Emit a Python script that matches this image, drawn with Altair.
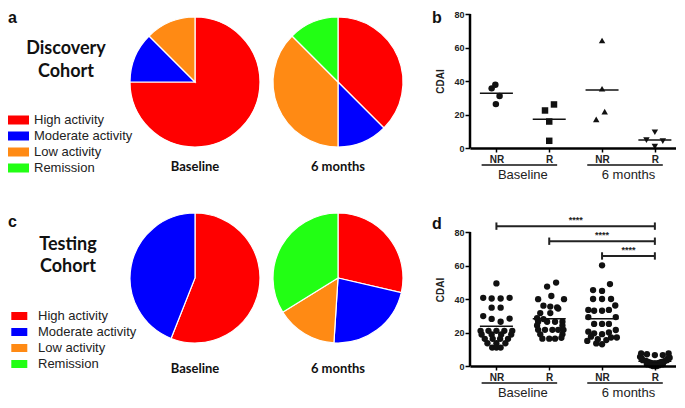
import altair as alt
import pandas as pd

# ---------------- data ----------------
CATS = ["High activity", "Moderate activity", "Low activity", "Remission"]
COLORS = ["#FF0000", "#0000FF", "#FF8A14", "#22FF14"]

disc_baseline = [75.0, 12.5, 12.5, 0.0]
disc_6months = [37.5, 12.5, 37.5, 12.5]
test_baseline = [56.0, 44.0, 0.0, 0.0]
test_6months = [28.6, 22.4, 15.2, 33.8]

GROUP_LABELS = ["Baseline", "6 months"]
TICK_LABELS = ["NR", "R", "NR", "R"]

b_nr_base = [35.6, 37.7, 31.1, 26.2]
b_nr_base_j = [-0.09, -0.02, 0.06, -0.01]
b_r_base = [22.4, 26.0, 15.8, 4.3]
b_r_base_j = [-0.08, 0.09, 0.0, 0.0]
b_nr_6m = [64.2, 35.4, 21.7, 17.1]
b_nr_6m_j = [0.0, 0.0, 0.05, -0.11]
b_r_6m = [9.4, 4.7, 4.1, 0.8]
b_r_6m_j = [0.0, -0.16, 0.15, 0.0]

d_nr_base = [49.3, 40.7, 40.3, 40.3, 40.7, 34.8, 34.8, 29.8, 28.1, 26.4, 28.3,
             21.0, 21.0, 21.0, 21.0, 21.0, 18.8, 18.8, 18.8, 18.8,
             16.2, 16.2, 16.2, 16.2, 13.6, 13.6, 13.6, 11.0, 11.0, 11.0]
d_nr_base_j = [0.0, -0.25, -0.09, 0.08, 0.25, -0.09, 0.08, -0.25, -0.09, 0.08, 0.25,
               -0.3, -0.15, 0.0, 0.15, 0.3, -0.28, -0.09, 0.09, 0.28,
               -0.22, -0.07, 0.07, 0.22, -0.17, 0.0, 0.17, -0.08, 0.0, 0.08]
d_r_base = [49.8, 47.4, 41.8, 39.9, 39.9, 36.0, 35.5, 35.0, 34.3, 31.6, 31.6, 28.5, 28.0,
            26.4, 26.4, 26.4, 26.4, 24.2, 24.2, 21.6, 21.6, 21.6, 21.6, 21.6,
            18.9, 18.9, 16.3, 16.3, 16.3, 16.8]
d_r_base_j = [0.13, -0.04, 0.04, -0.21, 0.28, -0.11, 0.02, 0.15, 0.17, -0.17, 0.02, -0.23, -0.11,
              -0.21, -0.04, 0.11, 0.25, -0.23, 0.25, -0.21, -0.08, 0.06, 0.17, 0.27,
              -0.17, 0.25, -0.13, 0.0, 0.11, 0.23]
d_nr_6m = [60.1, 48.9, 45.3, 44.8, 40.0, 40.0, 40.0, 36.1, 33.5, 33.0, 33.0, 33.5,
           29.2, 29.2, 25.1, 25.1, 25.1, 20.5, 19.5, 19.0, 20.0, 21.5,
           17.5, 16.0, 15.5, 17.0, 13.5, 13.0, 17.0, 15.0]
d_nr_6m_j = [0.0, 0.15, -0.17, 0.0, -0.17, 0.0, 0.17, 0.25, -0.26, -0.15, 0.0, 0.13,
             -0.26, 0.26, -0.15, 0.0, 0.13, -0.26, -0.15, 0.0, 0.13, 0.26,
             -0.21, -0.08, 0.08, 0.17, -0.11, 0.0, 0.28, -0.28]
d_r_6m = [7.5, 7.0, 6.5, 6.5, 7.5, 5.5, 5.0, 4.5, 4.5, 3.5, 3.5, 3.0, 3.0, 2.5, 2.5,
          2.0, 2.0, 1.5, 1.5, 1.5, 1.0, 1.0, 1.0, 1.0, 0.5, 0.5, 0.5, 0.0, 0.0, 0.0]
d_r_6m_j = [-0.26, -0.15, 0.0, 0.15, 0.26, -0.28, 0.28, -0.25, 0.25, -0.23, 0.23, -0.17, 0.19,
            -0.13, 0.13, -0.09, 0.09, -0.06, 0.06, 0.0, -0.15, 0.15, -0.02, 0.02,
            -0.08, 0.08, 0.0, -0.04, 0.04, 0.0]

BR_START = [1, 2, 3]
BR_END = [4, 4, 4]
BR_Y = [83.5, 74.5, 65.7]
BR_LABEL = ["****", "****", "****"]

# axis line extents (data units)
AX_X = [0.5, 4.4]
AX_Y = [0, 80]

SANS = "Liberation Sans"
TITLEFONT = "Lato"
ONE = pd.DataFrame({"k": [0]})
PX_PER_UNIT = 134 / 80.0
AXIS_COLOR = "black"


def txt(s, x, y, **kw):
    return alt.Chart(ONE).mark_text(text=s, **kw).encode(x=alt.value(x), y=alt.value(y))


def pie(vals, label, h, offset):
    df = pd.DataFrame({"cat": CATS, "val": vals, "ord": list(range(4))})
    return (
        alt.Chart(df)
        .transform_filter("datum.val > 0")
        .mark_arc(stroke="white", strokeWidth=1.2)
        .encode(
            theta=alt.Theta("val:Q", stack=True),
            color=alt.Color("cat:N", scale=alt.Scale(domain=CATS, range=COLORS), legend=None),
            order=alt.Order("ord:Q"),
        )
        .properties(
            width=130, height=h,
            title=alt.TitleParams(label, orient="bottom", font=TITLEFONT, fontSize=13,
                                  fontWeight="bold", color="#111", offset=offset),
        )
    )


def legend_panel(letter, letter_y, lines, line_ys, line_x, rows, rect_x, rect_w, rect_h, text_x, h):
    df = pd.DataFrame({"cat": CATS})
    ys = alt.Scale(domain=CATS, range=rows, padding=0)
    half = rect_h / rect_w
    path = f"M-1,-{half:.3f}L1,-{half:.3f}L1,{half:.3f}L-1,{half:.3f}Z"
    rects = alt.Chart(df).mark_point(shape=path, filled=True, opacity=1, size=rect_w * rect_w).encode(
        x=alt.value(rect_x),
        y=alt.Y("cat:N", scale=ys, axis=None),
        color=alt.Color("cat:N", scale=alt.Scale(domain=CATS, range=COLORS), legend=None),
    )
    labels = alt.Chart(df).mark_text(align="left", baseline="middle", font=SANS, fontSize=13,
                                     color="#222").encode(
        x=alt.value(text_x), y=alt.Y("cat:N", scale=ys, axis=None), text="cat:N")
    layers = [rects, labels]
    for s, yy in zip(lines, line_ys):
        layers.append(txt(s, line_x, yy, font=TITLEFONT, fontSize=18, fontWeight="bold",
                          color="#111", align="center", baseline="middle"))
    layers.append(txt(letter, 0, letter_y, font=SANS, fontSize=16, fontWeight="bold",
                      color="#111", align="left", baseline="top"))
    return alt.layer(*layers).properties(width=109, height=h)


def scatter(groups, shapes, size, h, letter, letter_y, brackets=False):
    rows = []
    for g, ((vals, jit), shp) in enumerate(zip(groups, shapes), start=1):
        for v, j in zip(vals, jit):
            rows.append({"g": g, "v": v, "j": j, "shape": shp})
    df = pd.DataFrame(rows)
    ytop = h / PX_PER_UNIT
    xs = alt.Scale(domain=AX_X, nice=False, zero=False)
    ys = alt.Scale(domain=[0, ytop], nice=False)
    lab_expr = "[" + ",".join(f"'{t}'" for t in TICK_LABELS) + "][datum.value - 1]"
    xaxis = alt.Axis(values=[1, 2, 3, 4], labelExpr=lab_expr, labelFont=SANS, labelFontWeight="bold",
                     labelFontSize=10, labelColor="#222", labelPadding=2, tickSize=4, tickWidth=1.5,
                     tickColor=AXIS_COLOR, domain=True, domainColor=AXIS_COLOR, domainWidth=2.5,
                     zindex=2, grid=False, title=None)
    yaxis = alt.Axis(values=[0, 20, 40, 60, 80], labelFont=SANS, labelFontWeight="bold", labelFontSize=9,
                     labelColor="#222", labelPadding=1, tickSize=5, tickWidth=1.5, tickColor=AXIS_COLOR,
                     domain=False, grid=False, title="CDAI", titleFont=SANS,
                     titleFontSize=10, titleFontWeight="bold", titleColor="#222", titlePadding=8)
    X = lambda f: alt.X(f, scale=xs, axis=xaxis)
    Y = lambda f: alt.Y(f, scale=ys, axis=yaxis)
    pts = alt.Chart(df).transform_calculate(xp="datum.g + datum.j").mark_point(
        filled=True, opacity=1, color="#111", size=size).encode(
        x=X("xp:Q"), y=Y("v:Q"), shape=alt.Shape("shape:N", scale=None))
    means = alt.Chart(df).mark_tick(orient="horizontal", size=33, thickness=1.5, color="#111").encode(
        x=X("g:Q"), y=Y("mean(v):Q"))
    adf = pd.DataFrame({"ax0": [AX_X[0]], "ay0": [AX_Y[0]], "ay1": [AX_Y[1]]})
    yline = alt.Chart(adf).transform_calculate(
        yl="datum.ay0", yh="datum.ay1", xx="datum.ax0").mark_rule(
        strokeWidth=2.5, color=AXIS_COLOR).encode(x=X("xx:Q"), y=Y("yl:Q"), y2="yh:Q")
    gdf = pd.DataFrame({"label": GROUP_LABELS, "start": [1, 3], "end": [2, 4]})
    underline = alt.Chart(gdf).transform_calculate(
        x1="datum.start - 0.28", x2="datum.end + 0.15").mark_rule(strokeWidth=1.5, color="#111").encode(
        x=X("x1:Q"), x2="x2:Q", y=alt.value(h + 17))
    gtext = alt.Chart(gdf).transform_calculate(xm="(datum.start + datum.end) / 2").mark_text(
        font=SANS, fontSize=13, color="#222", baseline="middle").encode(
        x=X("xm:Q"), y=alt.value(h + 27), text="label:N")
    layers = [pts, means, yline, underline, gtext]
    if brackets:
        bdf = pd.DataFrame({"x1": BR_START, "x2": BR_END, "y": BR_Y, "lab": BR_LABEL})
        base = alt.Chart(bdf).transform_calculate(
            ylo="datum.y - 2.2", yhi="datum.y + 2.2", xm="(datum.x1 + datum.x2) / 2")
        layers += [
            base.mark_rule(strokeWidth=2, color="#222").encode(x=X("x1:Q"), x2="x2:Q", y=Y("y:Q")),
            base.mark_rule(strokeWidth=2, color="#222").encode(x=X("x1:Q"), y=Y("ylo:Q"), y2="yhi:Q"),
            base.mark_rule(strokeWidth=2, color="#222").encode(x=X("x2:Q"), y=Y("ylo:Q"), y2="yhi:Q"),
            base.mark_text(font=SANS, fontSize=9, fontWeight="bold", color="#222", baseline="bottom",
                           dy=-1).encode(x=X("xm:Q"), y=Y("y:Q"), text="lab:N"),
        ]
    layers.append(txt(letter, -38, letter_y, font=SANS, fontSize=16, fontWeight="bold",
                      color="#111", align="left", baseline="top"))
    return alt.layer(*layers).properties(width=206, height=h)


def spacer(w):
    return txt("", 0, 0).properties(width=w, height=10)


panel_a = legend_panel("a", -4, ["Discovery", "Cohort"], [35, 58], 58, [106, 154], 10.5, 21, 9, 26, 136)
panel_c = legend_panel("c", 1, ["Testing", "Cohort"], [32, 54], 60, [103, 151], 11.3, 16, 8, 30, 130)

panel_b = scatter(
    [(b_nr_base, b_nr_base_j), (b_r_base, b_r_base_j), (b_nr_6m, b_nr_6m_j), (b_r_6m, b_r_6m_j)],
    ["circle", "square", "triangle-up", "triangle-down"], 42, 134, "b", -4)
panel_d = scatter(
    [(d_nr_base, d_nr_base_j), (d_r_base, d_r_base_j), (d_nr_6m, d_nr_6m_j), (d_r_6m, d_r_6m_j)],
    ["circle", "circle", "circle", "circle"], 40, 153, "d", 3, brackets=True)

cells = [
    panel_a, pie(disc_baseline, "Baseline", 136, 11), pie(disc_6months, "6 months", 136, 11),
    spacer(41), panel_b,
    panel_c, pie(test_baseline, "Baseline", 130, 18), pie(test_6months, "6 months", 130, 18),
    spacer(41), panel_d,
]

chart = (
    alt.concat(*cells, columns=5, spacing=alt.RowColnumber(row=63, column=13), bounds="flush")
    .properties(padding=0, background="white")
    .configure_view(strokeWidth=0)
)

chart.save("out.html", embed_options={"renderer": "svg", "actions": False})
